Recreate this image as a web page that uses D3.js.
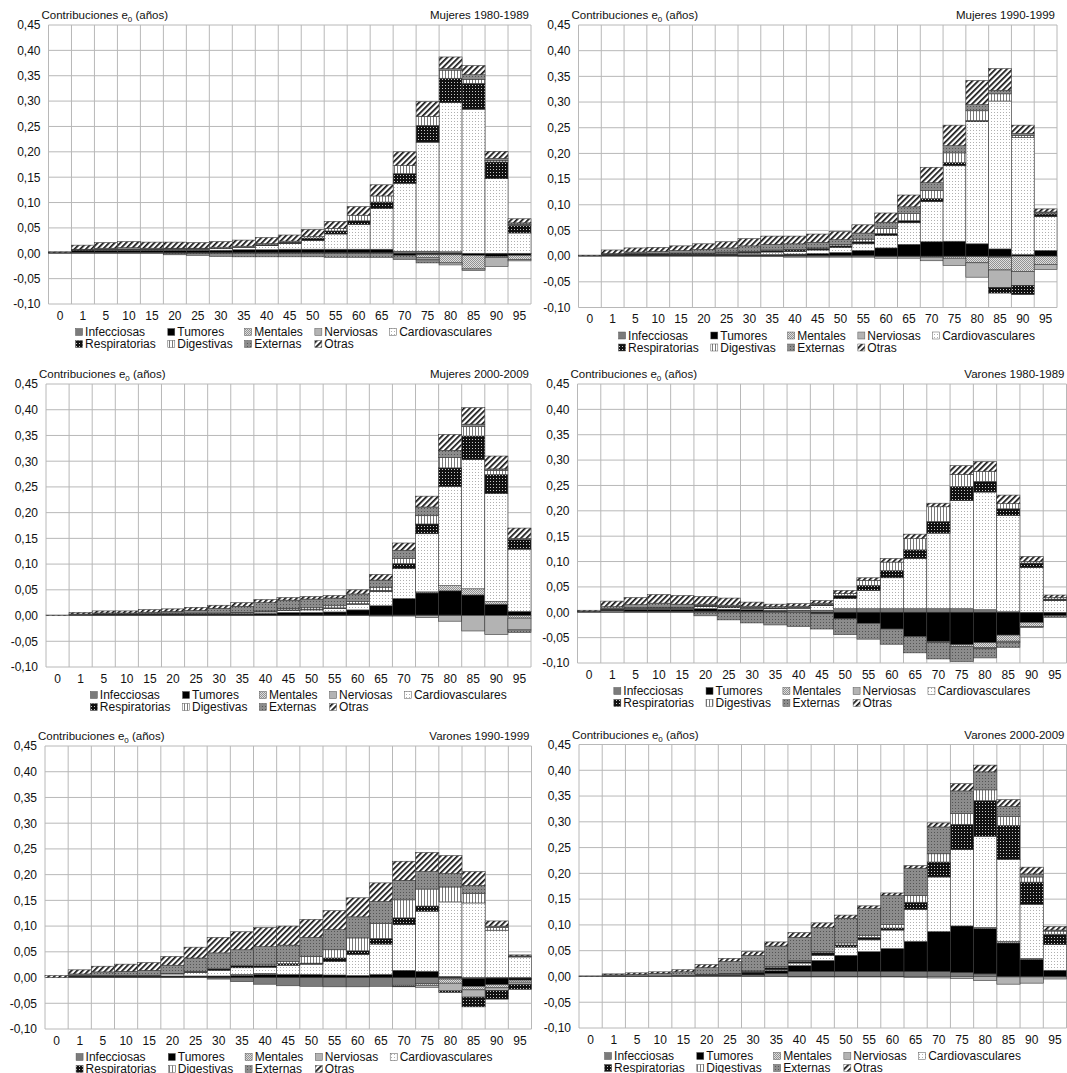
<!DOCTYPE html>
<html><head><meta charset="utf-8">
<script src="https://cdn.jsdelivr.net/npm/d3@7"></script>
<style>
body{margin:0;background:#fff;}
svg{display:block;}
text{font-family:"Liberation Sans",Arial,sans-serif;}
</style>
</head><body>
<svg id="c" width="1067" height="1073"></svg>
<script>
// ---------- categories / labels ----------
const ages = ["0","1","5","10","15","20","25","30","35","40","45","50","55","60","65","70","75","80","85","90","95"];
const causes = ["Infecciosas","Tumores","Mentales","Nerviosas","Cardiovasculares","Respiratorias","Digestivas","Externas","Otras"];
const causeKeys = ["inf","tum","men","ner","car","res","dig","ext","otr"];
const yTickValues = [-0.10,-0.05,0,0.05,0.10,0.15,0.20,0.25,0.30,0.35,0.40,0.45];
const panelTitles = ["Mujeres 1980-1989","Mujeres 1990-1999","Mujeres 2000-2009","Varones 1980-1989","Varones 1990-1999","Varones 2000-2009"];

// ---------- Mujeres 1980-1989 ----------
const muj80_inf = [0.001,0.002,0.002,0.002,0.002,0.001,0.001,0.001,0.001,0.001,0.001,0.001,0.001,0.001,0.001,0.004,0.004,0.003,0.000,-0.001,-0.001];
const muj80_tum = [0.000,0.003,0.004,0.004,0.004,0.005,0.005,0.005,0.006,0.006,0.007,0.007,0.007,0.007,0.007,-0.004,-0.003,-0.003,-0.004,-0.005,-0.003];
const muj80_men = [0,0,0,0,0,0,0,0,0,0,0,0,0,0,0,0,-0.006,-0.016,-0.027,-0.002,-0.008];
const muj80_ner = [0,0,0,0,0,0,0,0,0,0,0,0,0,0,0,0,-0.004,-0.004,-0.003,-0.018,-0.003];
const muj80_car = [0.000,0.001,0.001,0.001,0.001,0.002,0.002,0.003,0.004,0.008,0.011,0.017,0.030,0.049,0.080,0.134,0.215,0.294,0.284,0.147,0.040];
const muj80_res = [0.000,0.001,0.001,0.001,0.001,0.001,0.001,0.001,0.001,0.002,0.003,0.005,0.006,0.007,0.013,0.019,0.033,0.048,0.051,0.033,0.015];
const muj80_dig = [0.000,0.000,0.000,0.000,0.000,0.001,0.001,0.002,0.002,0.002,0.002,0.003,0.005,0.011,0.012,0.016,0.018,0.016,0.008,0.003,0.002];
const muj80_ext = [0.0005,0.001,0.002,0.003,0.002,-0.003,-0.004,-0.006,-0.007,-0.007,-0.007,-0.007,-0.008,-0.008,-0.008,-0.008,-0.006,0.003,0.009,0.004,0.003];
const muj80_otr = [0.0015,0.008,0.011,0.012,0.012,0.012,0.011,0.011,0.012,0.012,0.012,0.014,0.014,0.017,0.022,0.027,0.029,0.023,0.018,0.014,0.008];

// ---------- Mujeres 1990-1999 ----------
const muj90_inf = [0.0005,0.001,0.001,0.001,0.001,0.001,0.001,0.001,0.001,0.001,0.001,0.001,0.001,-0.001,-0.001,-0.001,-0.001,-0.001,-0.002,0,0];
const muj90_tum = [0,0.002,0.003,0.003,0.003,0.003,0.003,0.002,0.002,0.003,0.004,0.006,0.010,0.016,0.023,0.028,0.029,0.024,0.014,0.003,0.011];
const muj90_men = [0,0,0,0,0,0,0,0,0,0,0,0,0,0,0,-0.001,-0.003,-0.012,-0.025,-0.030,-0.016];
const muj90_ner = [0,0,0,0,0,0,0,-0.001,-0.001,-0.002,-0.002,-0.002,-0.002,-0.003,-0.003,-0.007,-0.014,-0.028,-0.034,-0.027,-0.010];
const muj90_car = [0,0,0,0,0.001,0.001,0.002,0.003,0.005,0.005,0.007,0.010,0.013,0.024,0.042,0.078,0.147,0.238,0.288,0.228,0.066];
const muj90_res = [0,0.001,0.001,0.001,0.001,0.001,0.001,0.002,0.003,0.003,0.003,0.003,0.004,0.004,0.004,0.006,0.006,0.002,-0.011,-0.018,0.005];
const muj90_dig = [0,0,0,0,0,0,0.001,0.001,0.001,0.001,0.001,0.003,0.005,0.010,0.014,0.016,0.019,0.019,0.014,0.004,0.002];
const muj90_ext = [0.0005,0.001,0.003,0.004,0.005,0.007,0.008,0.011,0.011,0.011,0.011,0.009,0.012,0.012,0.013,0.015,0.014,0.012,0.007,0.004,0.002];
const muj90_otr = [0.001,0.007,0.008,0.008,0.009,0.011,0.012,0.014,0.016,0.015,0.016,0.016,0.016,0.018,0.023,0.030,0.040,0.047,0.042,0.016,0.006];

// ---------- Mujeres 2000-2009 ----------
const muj00_inf = [0,0.001,0.001,0.001,0.001,0.001,0.001,0.001,0.001,0.001,0.001,0.001,0.001,0.001,0.001,0.001,0.001,0.001,0,0,0];
const muj00_tum = [0,0.001,0.002,0.002,0.002,0.002,0.002,0.002,0.002,0.003,0.005,0.005,0.006,0.010,0.018,0.032,0.043,0.047,0.040,0.022,0.008];
const muj00_men = [0,0,0,0,0,0,0,0,0,0,0,0,0,0,0,0,0.002,0.010,0.012,0.005,-0.005];
const muj00_ner = [0,0,0,0,0,0,0,0,0,0,0,0,0,0,-0.001,-0.001,-0.004,-0.011,-0.030,-0.037,-0.023];
const muj00_car = [0,0,0,0,0.0005,0.001,0.001,0.001,0.002,0.003,0.004,0.005,0.007,0.011,0.028,0.058,0.113,0.193,0.251,0.210,0.121];
const muj00_res = [0,0,0,0,0,0,0,0,0,0.001,0.001,0.001,0.001,0.001,0.002,0.010,0.019,0.036,0.046,0.037,0.019];
const muj00_dig = [0,0,0,0,0,0.001,0.001,0.001,0.001,0.001,0.003,0.003,0.004,0.004,0.006,0.010,0.016,0.020,0.018,0.008,0.002];
const muj00_ext = [0,0.001,0.002,0.002,0.003,0.003,0.005,0.009,0.012,0.016,0.016,0.017,0.015,0.015,0.014,0.016,0.017,0.014,0.005,0.003,-0.005];
const muj00_otr = [0.001,0.003,0.004,0.004,0.005,0.005,0.006,0.006,0.007,0.006,0.005,0.005,0.005,0.008,0.011,0.014,0.021,0.031,0.032,0.025,0.020];

// ---------- Varones 1980-1989 ----------
const var80_inf = [0.001,0.003,0.002,0.002,0.002,0.002,0.002,0.002,0.002,0.003,0.004,0.007,0.007,0.007,0.007,0.007,0.007,0.005,0.001,-0.001,-0.001];
const var80_tum = [0,0.002,0.004,0.004,0.004,0.005,0.004,0.003,0.002,0.001,-0.003,-0.013,-0.022,-0.033,-0.048,-0.058,-0.064,-0.060,-0.045,-0.019,-0.005];
const var80_men = [0,0,0,0,0,0,0,0,0,0,0,0,0,0,0,-0.002,-0.004,-0.010,-0.012,-0.008,-0.001];
const var80_ner = [0,0,0,0,0,0,0,0,0,0,0,0,0,0,0,0,0,-0.002,-0.002,0,0];
const var80_car = [0,0.001,0.002,0.002,0.002,0.004,0.003,0.003,0.003,0.004,0.009,0.020,0.036,0.061,0.099,0.149,0.213,0.232,0.190,0.088,0.023];
const var80_res = [0,0.001,0.001,0.002,0.002,0.003,0.003,0.002,0.002,0.002,0.003,0.006,0.010,0.014,0.017,0.023,0.028,0.021,0.013,0.009,0.003];
const var80_dig = [0,0,0,0,0,0.002,0.002,0.002,0.002,0.002,0.002,0.004,0.010,0.017,0.022,0.029,0.024,0.020,0.010,0.003,0.003];
const var80_ext = [0.001,0.004,0.006,0.008,0.006,-0.007,-0.015,-0.021,-0.025,-0.028,-0.030,-0.031,-0.031,-0.030,-0.032,-0.032,-0.029,-0.018,-0.010,-0.002,-0.003];
const var80_otr = [0.002,0.011,0.014,0.017,0.017,0.015,0.014,0.008,0.005,0.005,0.005,0.006,0.005,0.007,0.009,0.007,0.017,0.019,0.017,0.010,0.005];

// ---------- Varones 1990-1999 ----------
const var90_inf = [0,0.001,0.001,0.001,0.001,0.001,0.001,-0.003,-0.008,-0.013,-0.016,-0.017,-0.018,-0.018,-0.017,-0.015,-0.012,-0.003,-0.002,-0.001,-0.001];
const var90_tum = [0,0.002,0.002,0.002,0.002,0.002,0.002,0.003,0.004,0.006,0.006,0.006,0.005,0.004,0.006,0.014,0.012,0.002,-0.015,-0.013,-0.004];
const var90_men = [0,0,0,0,0,0,0,0,0.002,0.002,0,0,0,0,0,-0.002,-0.003,-0.008,-0.007,-0.006,-0.004];
const var90_ner = [0,0,0,0,0,0,0,0,0,0,0,0,0,0,0,-0.001,-0.004,-0.015,-0.014,-0.005,-0.004];
const var90_car = [0,0,0,0,0,0.004,0.007,0.011,0.013,0.012,0.018,0.020,0.026,0.041,0.059,0.089,0.117,0.145,0.145,0.092,0.040];
const var90_res = [0,0.001,0.001,0.001,0.001,0.001,0.002,0.003,0.004,0.003,0.003,0.002,0.007,0.007,0.011,0.013,0.010,-0.003,-0.019,-0.017,-0.010];
const var90_dig = [0,0,0,0,0,0,0,0,0,0.003,0.004,0.013,0.016,0.025,0.029,0.035,0.033,0.029,0.018,0.005,0.001];
const var90_ext = [0,0.003,0.007,0.008,0.010,0.016,0.026,0.031,0.031,0.034,0.032,0.037,0.039,0.041,0.043,0.038,0.034,0.026,0.016,0.003,0.001];
const var90_otr = [0.004,0.008,0.011,0.014,0.015,0.017,0.021,0.030,0.035,0.037,0.037,0.035,0.037,0.037,0.036,0.037,0.037,0.035,0.027,0.010,0.002];

// ---------- Varones 2000-2009 ----------
const var00_inf = [0,0,0,0,0.001,0.002,0.002,0.003,0.006,0.010,0.010,0.010,0.010,0.010,0.010,0.010,0.008,0.005,-0.001,-0.001,-0.001];
const var00_tum = [0,0.001,0.001,0.001,0.001,0.001,0.002,0.004,0.005,0.011,0.021,0.031,0.038,0.044,0.058,0.077,0.090,0.088,0.065,0.033,0.012];
const var00_men = [0,0,0,0,0,0,0,0,0,0,0,0,0,0,0,0,0,0.002,0.003,0.002,0];
const var00_ner = [0,0,0,0,0,0,0,0,0,-0.001,-0.001,-0.001,-0.001,-0.001,-0.002,-0.003,-0.004,-0.008,-0.014,-0.012,-0.004];
const var00_car = [0,0,0,0,0,0,0.001,0.001,0.002,0.005,0.010,0.016,0.023,0.036,0.062,0.106,0.148,0.177,0.159,0.105,0.050];
const var00_res = [0,0,0,0,0,0.001,0.001,0.002,0.004,0.003,0.005,0.004,0.005,0.004,0.014,0.029,0.049,0.069,0.066,0.043,0.020];
const var00_dig = [0,0,0,0,0,0,0,0.001,0.002,0.002,0.002,0.004,0.004,0.007,0.013,0.016,0.021,0.021,0.017,0.010,0.006];
const var00_ext = [0.0005,0.002,0.003,0.005,0.007,0.013,0.023,0.030,0.040,0.045,0.047,0.048,0.052,0.056,0.053,0.052,0.044,0.035,0.020,0.006,0.002];
const var00_otr = [0.0005,0.002,0.003,0.003,0.004,0.006,0.006,0.007,0.008,0.009,0.009,0.006,0.005,0.005,0.005,0.008,0.014,0.013,0.013,0.013,0.007];

// ---------- assemble ----------
const panelData = [
  {inf:muj80_inf,tum:muj80_tum,men:muj80_men,ner:muj80_ner,car:muj80_car,res:muj80_res,dig:muj80_dig,ext:muj80_ext,otr:muj80_otr},
  {inf:muj90_inf,tum:muj90_tum,men:muj90_men,ner:muj90_ner,car:muj90_car,res:muj90_res,dig:muj90_dig,ext:muj90_ext,otr:muj90_otr},
  {inf:muj00_inf,tum:muj00_tum,men:muj00_men,ner:muj00_ner,car:muj00_car,res:muj00_res,dig:muj00_dig,ext:muj00_ext,otr:muj00_otr},
  {inf:var80_inf,tum:var80_tum,men:var80_men,ner:var80_ner,car:var80_car,res:var80_res,dig:var80_dig,ext:var80_ext,otr:var80_otr},
  {inf:var90_inf,tum:var90_tum,men:var90_men,ner:var90_ner,car:var90_car,res:var90_res,dig:var90_dig,ext:var90_ext,otr:var90_otr},
  {inf:var00_inf,tum:var00_tum,men:var00_men,ner:var00_ner,car:var00_car,res:var00_res,dig:var00_dig,ext:var00_ext,otr:var00_otr}
];
// layout boxes (plot area in px) and legend horizontal shift
const boxes = [
  {L:48.5, R:531,   T:25,  B:304,   lg:-6},
  {L:578.5,R:1057,  T:25,  B:307.5, lg:9},
  {L:46,   R:531,   T:384, B:667,   lg:10},
  {L:577.5,R:1066.5,T:384, B:663,   lg:0},
  {L:45,   R:531.5, T:746, B:1029,  lg:-4},
  {L:579,  R:1066.5,T:744.5,B:1028, lg:-10}
];

const FONT = 12;
const svg = d3.select("#c");
const defs = svg.append("defs");

function makePattern(id, w, h, bg, draw, transform){
  const p = defs.append("pattern").attr("id", id).attr("patternUnits","userSpaceOnUse")
    .attr("width", w).attr("height", h);
  if (transform) p.attr("patternTransform", transform);
  p.append("rect").attr("width", w).attr("height", h).attr("fill", bg);
  draw(p);
}
makePattern("pMen", 2, 2, "#dedede", p => {
  p.append("rect").attr("x",0).attr("y",0).attr("width",1).attr("height",1).attr("fill","#929292");
  p.append("rect").attr("x",1).attr("y",1).attr("width",1).attr("height",1).attr("fill","#929292");
});
makePattern("pCar", 3, 3, "#ffffff", p => {
  p.append("rect").attr("x",1).attr("y",1).attr("width",1).attr("height",1).attr("fill","#b0b0b0");
});
makePattern("pRes", 3, 3, "#111111", p => {
  p.append("rect").attr("x",1).attr("y",1).attr("width",1).attr("height",1).attr("fill","#c8c8c8");
});
makePattern("pDig", 3, 3, "#ffffff", p => {
  p.append("rect").attr("x",1).attr("y",0).attr("width",1).attr("height",3).attr("fill","#7a7a7a");
});
makePattern("pExt", 3, 3, "#8c8c8c", p => {
  p.append("rect").attr("x",1).attr("y",1).attr("width",1).attr("height",1).attr("fill","#555555");
});
makePattern("pOtr", 4, 4, "#ffffff", p => {
  p.append("rect").attr("x",0).attr("y",0).attr("width",1.7).attr("height",4).attr("fill","#111111");
}, "rotate(45)");

const fills = {
  inf:"#7b7b7b", tum:"#000000", men:"url(#pMen)", ner:"#b3b3b3", car:"url(#pCar)",
  res:"url(#pRes)", dig:"url(#pDig)", ext:"url(#pExt)", otr:"url(#pOtr)"
};

const fmt = v => d3.format(".2f")(v).replace("\u2212","-").replace(".", ",");

// text measurer for legend
const measurer = svg.append("text").attr("font-size", FONT).attr("visibility","hidden");
function tw(s){ measurer.text(s); return measurer.node().getComputedTextLength(); }

panelData.forEach((pd, pi) => {
  const b = boxes[pi];
  const rows = ages.map((a, i) => {
    const r = {age: a};
    causeKeys.forEach(k => r[k] = pd[k][i]);
    return r;
  });
  const series = d3.stack().keys(causeKeys).offset(d3.stackOffsetDiverging)(rows);
  const x = d3.scaleBand().domain(ages).range([b.L, b.R]).paddingInner(0).paddingOuter(0);
  const y = d3.scaleLinear().domain([-0.10, 0.45]).range([b.B, b.T]);
  const g = svg.append("g");

  // gridlines
  g.append("g").selectAll("line").data(yTickValues).join("line")
    .attr("x1", b.L).attr("x2", b.R)
    .attr("y1", d => y(d)).attr("y2", d => y(d))
    .attr("stroke", "#b8b8b8").attr("stroke-width", 1);
  const vx = ages.map(a => x(a)).concat([b.R]);
  g.append("g").selectAll("line").data(vx).join("line")
    .attr("x1", d => d).attr("x2", d => d)
    .attr("y1", b.T).attr("y2", b.B)
    .attr("stroke", "#b8b8b8").attr("stroke-width", 1);

  // bars
  g.append("g").selectAll("g").data(series).join("g")
    .attr("fill", s => fills[s.key])
    .selectAll("rect")
    .data(s => s.filter(d => Math.abs(d[1] - d[0]) > 1e-9))
    .join("rect")
    .attr("x", d => x(d.data.age))
    .attr("width", x.bandwidth())
    .attr("y", d => y(Math.max(d[0], d[1])))
    .attr("height", d => Math.abs(y(d[0]) - y(d[1])))
    .attr("stroke", "#3a3a3a").attr("stroke-width", 0.6);

  // y axis
  const ya = g.append("g").attr("transform", `translate(${b.L},0)`)
    .call(d3.axisLeft(y).tickValues(yTickValues).tickFormat(fmt).tickSize(0).tickPadding(8));
  ya.select(".domain").remove();
  ya.attr("font-size", FONT).attr("font-family", '"Liberation Sans",Arial,sans-serif');
  ya.selectAll("text").attr("fill", "#111");

  // x axis
  const xa = g.append("g").attr("transform", `translate(0,${b.B})`)
    .call(d3.axisBottom(x).tickSize(0).tickPadding(7));
  xa.select(".domain").remove();
  xa.attr("font-size", FONT).attr("font-family", '"Liberation Sans",Arial,sans-serif');
  xa.selectAll("text").attr("fill", "#111");

  // titles
  const t = g.append("text").attr("x", b.L - 7).attr("y", b.T - 6)
    .attr("font-size", 11.5).attr("fill", "#111");
  t.append("tspan").text("Contribuciones e");
  t.append("tspan").attr("font-size", 8).attr("dy", 3).text("0");
  t.append("tspan").attr("dy", -3).text(" (años)");
  g.append("text").attr("x", b.R - 2).attr("y", b.T - 6).attr("text-anchor", "end")
    .attr("font-size", 11.5).attr("fill", "#111").text(panelTitles[pi]);

  // legend
  const sw = 7, sgap = 2.5, colGap = 12;
  const colW = [];
  for (let c = 0; c < 5; c++) {
    let w = tw(causes[c]);
    if (c + 5 < causes.length) w = Math.max(w, tw(causes[c + 5]));
    colW.push(sw + sgap + w);
  }
  const totalW = d3.sum(colW) + colGap * 4;
  let cx = (b.L + b.R) / 2 - totalW / 2 + b.lg;
  const colX = colW.map(w => { const v = cx; cx += w + colGap; return v; });
  const lg = g.append("g");
  causes.forEach((name, i) => {
    const col = i % 5, row = Math.floor(i / 5);
    const lx = colX[col], ly = b.B + 28 + row * 12;
    lg.append("rect").attr("x", lx).attr("y", ly - sw / 2).attr("width", sw).attr("height", sw)
      .attr("fill", fills[causeKeys[i]]).attr("stroke", "#555").attr("stroke-width", 0.5);
    lg.append("text").attr("x", lx + sw + sgap).attr("y", ly).attr("dy", "0.36em")
      .attr("font-size", FONT).attr("fill", "#111").text(name);
  });
});
measurer.remove();
</script>
</body></html>
